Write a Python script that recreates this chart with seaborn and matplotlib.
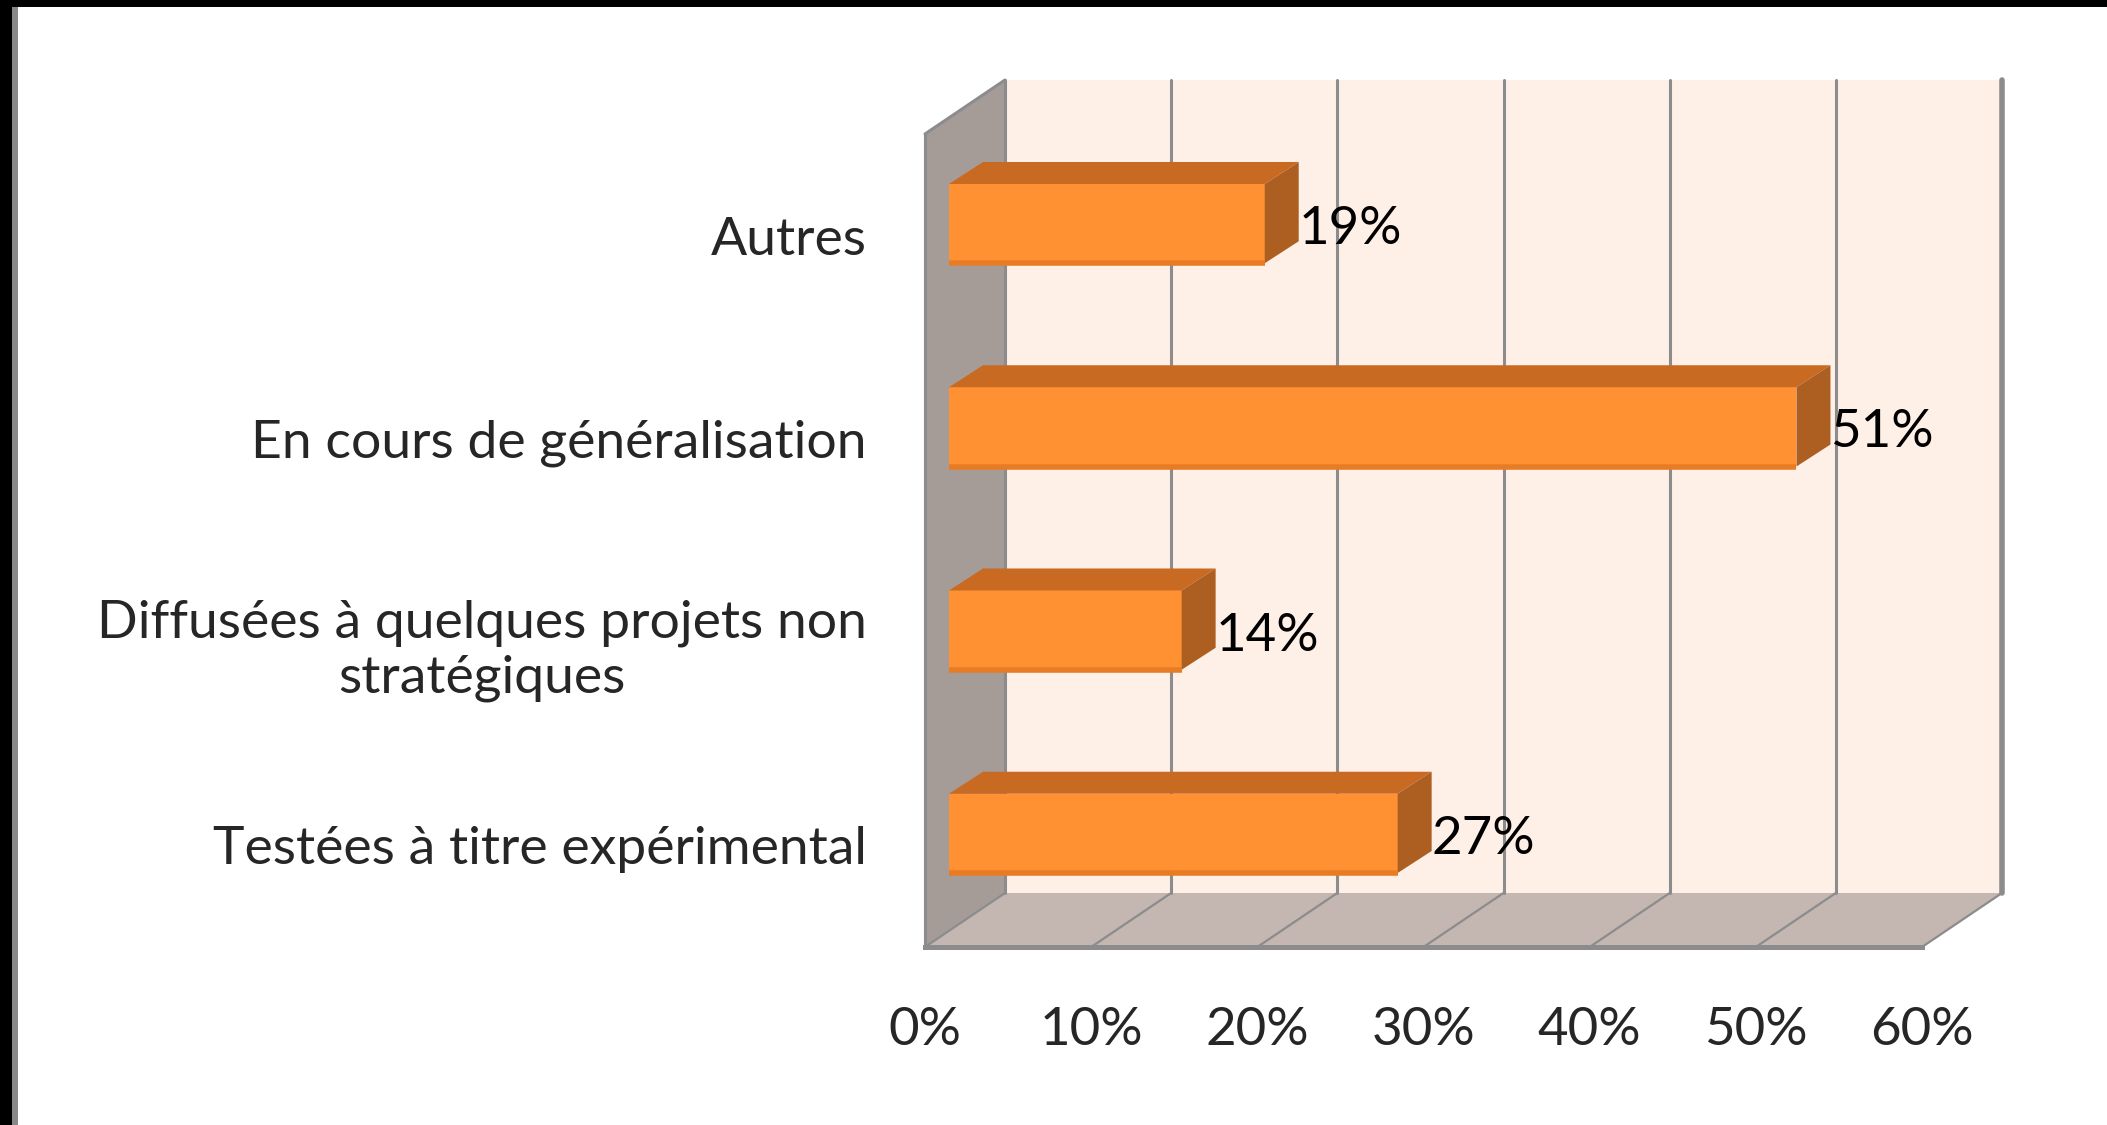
import seaborn as sns
import matplotlib.pyplot as plt
from matplotlib.patches import Polygon, Rectangle

categories = ["Autres", "En cours de généralisation",
              "Diffusées à quelques projets non\nstratégiques",
              "Testées à titre expérimental"]
values = [19, 51, 14, 27]
xticks = [0, 10, 20, 30, 40, 50, 60]
xticklabels = ["0%", "10%", "20%", "30%", "40%", "50%", "60%"]

sns.set_style("white")
plt.rcParams['font.family'] = ['Lato', 'DejaVu Sans']

W, H = 2107, 1125
fig = plt.figure(figsize=(W / 100, H / 100), dpi=100)

# front plane of the 3d box (pixels -> figure fractions)
x0, y0, pw, ph = 925, 947, 997, 813
ax = fig.add_axes([x0 / W, (H - y0) / H, pw / W, ph / H])
ax.set_xlim(0, 60)
ax.set_ylim(3.5, -0.5)
ax.patch.set_visible(False)

pxx = pw / 60.0      # pixels per x unit
pxy = ph / 4.0       # pixels per category
wx, wy = 80 / pxx, -54 / pxy   # wall depth

grey = '#8C8C8C'
# back wall
ax.add_patch(Rectangle((wx, -0.5 + wy), 60, 4, facecolor='#FEEFE7',
                       edgecolor='none', clip_on=False, zorder=0))
# side wall
ax.add_patch(Polygon([(0, -0.5), (wx, -0.5 + wy), (wx, 3.5 + wy), (0, 3.5)],
                     facecolor='#A59C98', edgecolor='none', clip_on=False, zorder=1))
# floor
ax.add_patch(Polygon([(0, 3.5), (60, 3.5), (60 + wx, 3.5 + wy), (wx, 3.5 + wy)],
                     facecolor='#C4B6B0', edgecolor='none', clip_on=False, zorder=1))
for t in xticks:
    ax.plot([t + wx, t + wx], [-0.5 + wy, 3.5 + wy], color=grey,
            lw=2.2 if t < 60 else 4, clip_on=False, zorder=2)
    ax.plot([t, t + wx], [3.5, 3.5 + wy], color=grey, lw=1.6,
            clip_on=False, zorder=2)
ax.plot([0, wx], [-0.5, -0.5 + wy], color=grey, lw=2.2, clip_on=False, zorder=2)

ax.set_xticks(xticks)
ax.set_xticklabels(xticklabels, fontsize=38)
ax.set_yticks(range(len(categories)))
ax.set_yticklabels(categories, fontsize=38.5)
ax.get_yticklabels()[2].set_multialignment('center')
ax.set_yticks([-0.5, 0.5, 1.5, 2.5, 3.5], minor=True)
ax.tick_params(axis='x', length=12, width=2.2, color=grey, pad=31)
ax.tick_params(axis='y', which='major', length=0, pad=42)
ax.tick_params(axis='y', which='minor', length=9, width=2.2, color=grey)
for s in ['top', 'right']:
    ax.spines[s].set_visible(False)
ax.spines['bottom'].set_color(grey)
ax.spines['bottom'].set_linewidth(3.6)
ax.spines['left'].set_color(grey)
ax.spines['left'].set_linewidth(2.2)

# bars, a bit deeper in the box
axb = fig.add_axes([(x0 + 24) / W, (H - y0 + 12) / H, pw / W, ph / H])
sns.barplot(x=values, y=categories, orient='h', color='#FF9133', saturation=1,
            width=0.39, linewidth=0, ax=axb, zorder=3)
axb.set_xlim(0, 60)
axb.set_ylim(3.5, -0.5)
axb.axis('off')

bx, by = 34 / pxx, -22 / pxy   # bar depth
for p, v in zip(axb.patches, values):
    top, bot = p.get_y(), p.get_y() + p.get_height()
    w = p.get_width()
    axb.add_patch(Polygon([(0, top), (w, top), (w + bx, top + by), (bx, top + by)],
                          facecolor='#C96A22', edgecolor='none', clip_on=False, zorder=3))
    axb.add_patch(Polygon([(w, top), (w + bx, top + by), (w + bx, bot + by), (w, bot)],
                          facecolor='#AD5F21', edgecolor='none', clip_on=False, zorder=3))
    axb.plot([0, w], [bot, bot], color='#E87C25', lw=4, solid_capstyle='butt',
             clip_on=False, zorder=4)
    axb.text(w + bx, (top + bot) / 2 + 0.03, f"{v}%", ha='left', va='center',
             fontsize=38, color='black', clip_on=False)

# frame on top and left edges
fig.patches.append(Rectangle((0, 0), 12 / W, 1, transform=fig.transFigure,
                             facecolor='black', edgecolor='none'))
fig.patches.append(Rectangle((12 / W, 0), 6 / W, 1, transform=fig.transFigure,
                             facecolor='#888888', edgecolor='none'))
fig.patches.append(Rectangle((0, 1 - 7 / H), 1, 7 / H, transform=fig.transFigure,
                             facecolor='black', edgecolor='none'))

fig.savefig('out.png', dpi=100)
